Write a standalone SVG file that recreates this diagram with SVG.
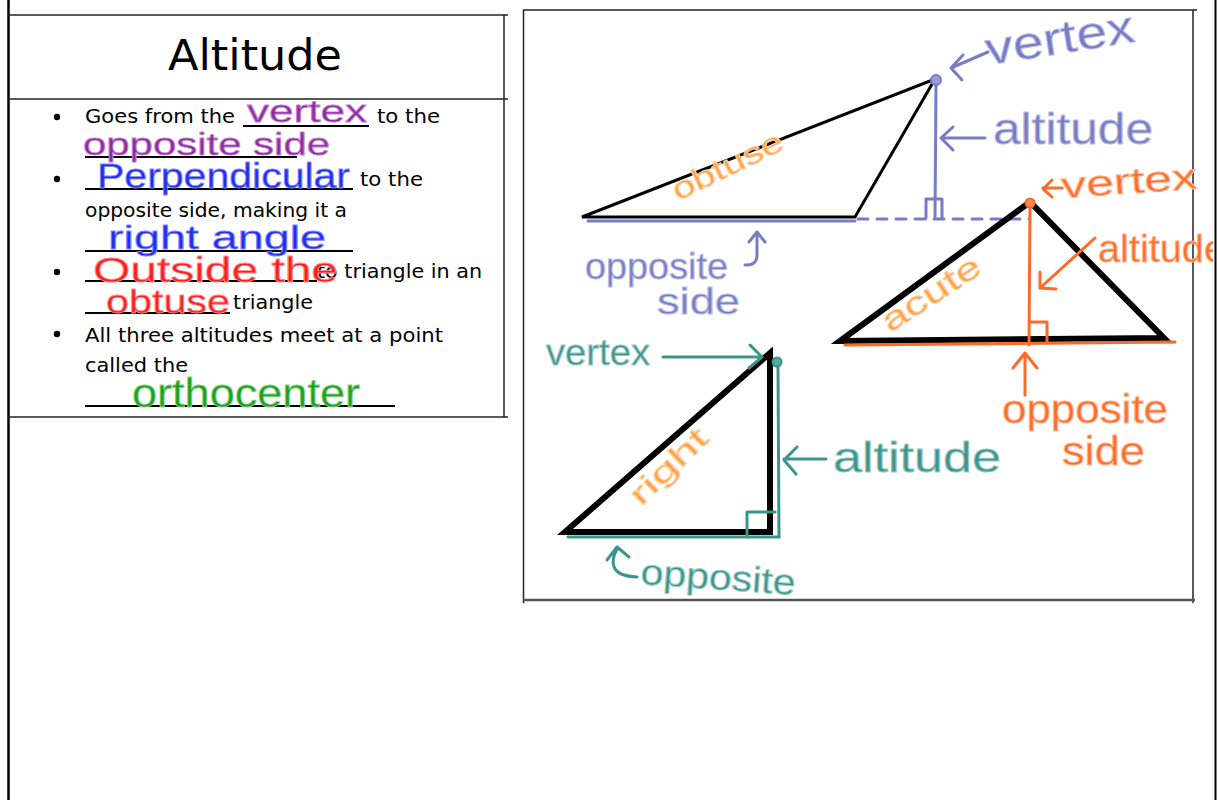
<svg xmlns="http://www.w3.org/2000/svg" width="1218" height="800" viewBox="0 0 1218 800">
<style>
.frame{fill:none;stroke:#222;stroke-width:1.5}
.pt{font-family:"DejaVu Sans","Liberation Sans",sans-serif;font-size:19px;fill:#000}
.hw{font-family:"Liberation Sans","DejaVu Sans",sans-serif;stroke-linejoin:round}
.ul{stroke:#000;stroke-width:1.8}
.pur{fill:#8e2a9e;stroke:#c27fd0;stroke-width:0.8}
.blu{fill:#1f2cf2;stroke:#7f86fa;stroke-width:0.8}
.red{fill:#fa1e1e;stroke:#ff8a8a;stroke-width:0.8}
.grn{fill:#20a020;stroke:#86d486;stroke-width:0.8}
.lav{fill:#777cc4;stroke:#b9bce6;stroke-width:1}
.org{fill:#ff6a28;stroke:#ffb48e;stroke-width:1}
.lor{fill:#ffa040;stroke:#ffd0a0;stroke-width:1}
.tea{fill:#3a958d;stroke:#9ccbc6;stroke-width:1}
.lavs{fill:none;stroke:#777cc4;stroke-width:3;stroke-linecap:round;stroke-linejoin:round}
.orgs{fill:none;stroke:#ff6a28;stroke-width:3;stroke-linecap:round;stroke-linejoin:round}
.teas{fill:none;stroke:#3a958d;stroke-width:3;stroke-linecap:round;stroke-linejoin:round}
.tri{fill:none;stroke:#000;stroke-linejoin:miter}
</style>
<defs>
<clipPath id="clipR"><rect x="0" y="0" width="1213" height="800"/></clipPath>
</defs>
<rect width="1218" height="800" fill="#fff"/>
<!-- page borders -->
<line x1="8.5" y1="0" x2="8.5" y2="800" stroke="#000" stroke-width="2.5"/>
<line x1="1215.5" y1="0" x2="1215.5" y2="800" stroke="#000" stroke-width="2"/>
<!-- left table -->
<g id="table">
<line class="frame" x1="8" y1="15" x2="508" y2="15"/>
<line class="frame" x1="8" y1="99" x2="508" y2="99"/>
<line class="frame" x1="8" y1="417" x2="508" y2="417"/>
<line class="frame" x1="504" y1="15" x2="504" y2="417"/>
<text x="255" y="70" text-anchor="middle" font-family="'DejaVu Sans','Liberation Sans',sans-serif" font-size="42" textLength="174" lengthAdjust="spacingAndGlyphs">Altitude</text>
</g>
<g id="bullets">
<circle cx="57" cy="117" r="3.2"/>
<circle cx="57" cy="179" r="3.2"/>
<circle cx="57" cy="272" r="3.2"/>
<circle cx="57" cy="334" r="3.2"/>
<text class="pt" x="85" y="123" textLength="150" lengthAdjust="spacingAndGlyphs">Goes from the</text>
<line class="ul" x1="243" y1="126" x2="369" y2="126"/>
<text class="pt" x="377" y="123" textLength="63" lengthAdjust="spacingAndGlyphs">to the</text>
<line class="ul" x1="85" y1="157" x2="297" y2="157"/>
<line class="ul" x1="85" y1="189" x2="353" y2="189"/>
<text class="pt" x="360" y="186" textLength="63" lengthAdjust="spacingAndGlyphs">to the</text>
<text class="pt" x="85" y="217" textLength="262" lengthAdjust="spacingAndGlyphs">opposite side, making it a</text>
<line class="ul" x1="85" y1="251" x2="353" y2="251"/>
<line class="ul" x1="85" y1="281" x2="317" y2="281"/>
<text class="pt" x="317" y="278" textLength="165" lengthAdjust="spacingAndGlyphs">to triangle in an</text>
<line class="ul" x1="85" y1="313" x2="230" y2="313"/>
<text class="pt" x="233" y="309" textLength="80" lengthAdjust="spacingAndGlyphs">triangle</text>
<text class="pt" x="85" y="342" textLength="358" lengthAdjust="spacingAndGlyphs">All three altitudes meet at a point</text>
<text class="pt" x="85" y="372" textLength="103" lengthAdjust="spacingAndGlyphs">called the</text>
<line class="ul" x1="85" y1="406" x2="395" y2="406"/>
<!-- handwritten answers -->
<text class="hw pur" x="247" y="122" font-size="32" textLength="120" lengthAdjust="spacingAndGlyphs">vertex</text>
<text class="hw pur" x="83" y="155" font-size="32" textLength="247" lengthAdjust="spacingAndGlyphs">opposite side</text>
<text class="hw blu" x="97" y="188" font-size="35" textLength="253" lengthAdjust="spacingAndGlyphs">Perpendicular</text>
<text class="hw blu" x="108" y="249" font-size="34" textLength="218" lengthAdjust="spacingAndGlyphs">right angle</text>
<text class="hw red" x="93" y="282" font-size="35" textLength="245" lengthAdjust="spacingAndGlyphs">Outside the</text>
<text class="hw red" x="106" y="313" font-size="33" textLength="124" lengthAdjust="spacingAndGlyphs">obtuse</text>
<text class="hw grn" x="132" y="407" font-size="40" textLength="228" lengthAdjust="spacingAndGlyphs">orthocenter</text>
</g>
<!-- right frame -->
<g id="picture-frame">
<line class="frame" x1="523" y1="10" x2="1197" y2="10"/>
<line class="frame" x1="523.5" y1="10" x2="523.5" y2="603"/>
<line class="frame" x1="1193" y1="10" x2="1193" y2="603"/>
<line x1="523" y1="600" x2="1195" y2="600" stroke="#555" stroke-width="2.5"/>
</g>
<!-- obtuse triangle -->
<g id="obtuse">
<polygon class="tri" points="582,217 855,217 935,79" stroke-width="3"/>
<line class="lavs" x1="588" y1="221" x2="855" y2="221"/>
<path class="lavs" d="M858,219 H1030" stroke-dasharray="10,9"/>
<circle cx="936" cy="80" r="5" fill="#9a9dd6" stroke="#777cc4" stroke-width="2"/>
<line class="lavs" x1="936" y1="85" x2="935" y2="218"/>
<path class="lavs" d="M926,218 V199 H942 V218"/>
<path class="lavs" d="M988,52 L951,68 M963,55 L951,68 L962,80"/>
<path class="lavs" d="M985,138 H941 M953,127 L941,138 L953,150"/>
<path class="lavs" d="M757,232 V255 Q757,266 745,265 M749,242 L757,232 L765,242"/>
<text class="hw lav" x="988" y="65" font-size="46" transform="rotate(-9 988 65)" textLength="150" lengthAdjust="spacingAndGlyphs">vertex</text>
<text class="hw lav" x="993" y="144" font-size="44" textLength="160" lengthAdjust="spacingAndGlyphs">altitude</text>
<text class="hw lav" x="585" y="279" font-size="37" textLength="143" lengthAdjust="spacingAndGlyphs">opposite</text>
<text class="hw lav" x="657" y="314" font-size="37" textLength="83" lengthAdjust="spacingAndGlyphs">side</text>
<text class="hw lor" x="678" y="201" font-size="30" transform="rotate(-26 678 201)" textLength="120" lengthAdjust="spacingAndGlyphs">obtuse</text>
</g>
<!-- acute triangle -->
<g id="acute">
<polygon class="tri" points="840,341 1164,338 1030,202" stroke-width="6"/>
<line class="orgs" x1="845" y1="345" x2="1175" y2="342"/>
<circle cx="1030" cy="203" r="4.5" fill="#ff8a55" stroke="#ff6a28" stroke-width="2"/>
<line class="orgs" x1="1030" y1="208" x2="1029" y2="345"/>
<path class="orgs" d="M1031,322 H1047 V342"/>
<path class="orgs" d="M1062,188 H1043 M1052,180 L1043,189 L1052,197"/>
<path class="orgs" d="M1095,238 L1040,288 M1040,272 L1040,288 L1056,289"/>
<path class="orgs" d="M1025,395 V353 M1013,368 L1025,353 L1037,368"/>
<text class="hw org" x="1062" y="198" font-size="36" transform="rotate(-4 1062 198)" textLength="136" lengthAdjust="spacingAndGlyphs">vertex</text>
<text class="hw org" x="1098" y="262" font-size="38" textLength="128" lengthAdjust="spacingAndGlyphs" clip-path="url(#clipR)">altitude</text>
<text class="hw org" x="1002" y="423" font-size="40" textLength="166" lengthAdjust="spacingAndGlyphs">opposite</text>
<text class="hw org" x="1062" y="465" font-size="40" textLength="83" lengthAdjust="spacingAndGlyphs">side</text>
<text class="hw lor" x="890" y="333" font-size="32" transform="rotate(-33 890 333)" textLength="112" lengthAdjust="spacingAndGlyphs">acute</text>
</g>
<!-- right triangle -->
<g id="right">
<polygon class="tri" points="565,532 770,353 770,532" stroke-width="6"/>
<line class="teas" x1="568" y1="537" x2="779" y2="537"/>
<circle cx="777" cy="362" r="4.5" fill="#5aaba3" stroke="#3a958d" stroke-width="2"/>
<line class="teas" x1="778" y1="367" x2="779" y2="537"/>
<path class="teas" d="M747,537 V512 H775"/>
<path class="teas" d="M663,357 H762 M750,345 L762,357 L749,368"/>
<path class="teas" d="M826,459 H784 M797,447 L784,460 L796,474"/>
<path class="teas" d="M617,549 C610,562 610,576 637,577 M607,560 L617,547 L629,557"/>
<text class="hw tea" x="546" y="365" font-size="36" textLength="104" lengthAdjust="spacingAndGlyphs">vertex</text>
<text class="hw tea" x="833" y="472" font-size="42" textLength="168" lengthAdjust="spacingAndGlyphs">altitude</text>
<text class="hw tea" x="640" y="584" font-size="36" transform="rotate(4 640 584)" textLength="155" lengthAdjust="spacingAndGlyphs">opposite</text>
<text class="hw lor" x="641" y="507" font-size="30" transform="rotate(-44 641 507)" textLength="96" lengthAdjust="spacingAndGlyphs">right</text>
</g>
</svg>
